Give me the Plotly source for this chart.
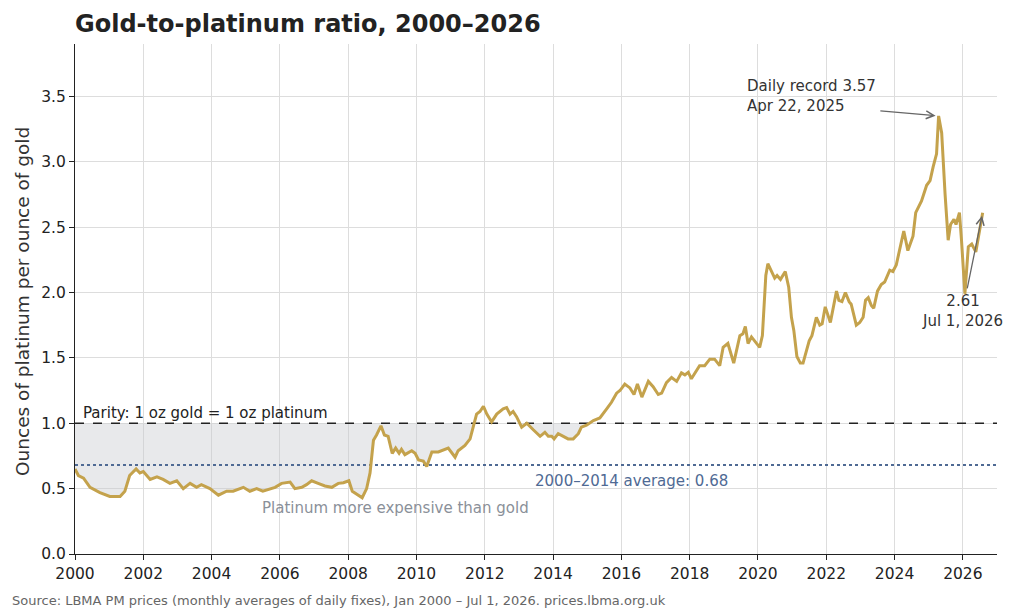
import plotly.graph_objects as go

# Monthly-average gold/platinum ratio (decimal year, ounces of platinum per ounce of gold)
years = [
    2000.00, 2000.10, 2000.25, 2000.44, 2000.73, 2001.02, 2001.32, 2001.46, 2001.60, 2001.79,
    2001.90, 2002.00, 2002.20, 2002.40, 2002.58, 2002.78, 2002.98, 2003.17, 2003.37, 2003.56,
    2003.70, 2003.95, 2004.20, 2004.44, 2004.63, 2004.93, 2005.12, 2005.32, 2005.50, 2005.70,
    2005.86, 2006.05, 2006.30, 2006.44, 2006.64, 2006.78, 2006.93, 2007.12, 2007.32, 2007.52,
    2007.71, 2007.86, 2008.02, 2008.12, 2008.25, 2008.41, 2008.54, 2008.64, 2008.74, 2008.83,
    2008.96, 2009.06, 2009.17, 2009.29, 2009.39, 2009.49, 2009.56, 2009.66, 2009.86, 2009.96,
    2010.06, 2010.20, 2010.30, 2010.45, 2010.64, 2010.83, 2010.93, 2011.13, 2011.22, 2011.42,
    2011.57, 2011.66, 2011.76, 2011.86, 2011.96, 2012.06, 2012.20, 2012.35, 2012.54, 2012.64,
    2012.74, 2012.83, 2012.93, 2013.08, 2013.23, 2013.42, 2013.62, 2013.76, 2013.86, 2013.96,
    2014.03, 2014.15, 2014.30, 2014.44, 2014.59, 2014.74, 2014.83, 2014.98, 2015.18, 2015.37,
    2015.57, 2015.71, 2015.86, 2015.96, 2016.10, 2016.25, 2016.37, 2016.47, 2016.60, 2016.79,
    2016.93, 2017.08, 2017.18, 2017.32, 2017.47, 2017.62, 2017.76, 2017.86, 2017.96, 2018.05,
    2018.29, 2018.44, 2018.59, 2018.73, 2018.88, 2018.98, 2019.12, 2019.29, 2019.47, 2019.56,
    2019.63, 2019.71, 2019.81, 2020.05, 2020.13, 2020.23, 2020.29, 2020.49, 2020.56, 2020.66,
    2020.80, 2020.90, 2020.98, 2021.05, 2021.14, 2021.24, 2021.32, 2021.40, 2021.50, 2021.58,
    2021.71, 2021.81, 2021.88, 2021.97, 2022.12, 2022.30, 2022.37, 2022.46, 2022.56, 2022.67,
    2022.73, 2022.88, 2022.98, 2023.08, 2023.15, 2023.23, 2023.32, 2023.39, 2023.50, 2023.61,
    2023.71, 2023.86, 2023.95, 2024.05, 2024.15, 2024.27, 2024.39, 2024.54, 2024.62, 2024.79,
    2024.94, 2025.04, 2025.13, 2025.23, 2025.29, 2025.38, 2025.48, 2025.57, 2025.64, 2025.74,
    2025.80, 2025.90, 2025.96, 2026.06, 2026.16, 2026.26, 2026.38, 2026.48, 2026.58,
]
ratio = [
    0.65, 0.60, 0.58, 0.51, 0.47, 0.44, 0.44, 0.48, 0.60, 0.65,
    0.62, 0.63, 0.57, 0.59, 0.57, 0.54, 0.56, 0.50, 0.54, 0.51,
    0.53, 0.50, 0.45, 0.48, 0.48, 0.51, 0.48, 0.50, 0.48, 0.50,
    0.51, 0.54, 0.55, 0.50, 0.51, 0.53, 0.56, 0.54, 0.52, 0.51,
    0.54, 0.545, 0.56, 0.48, 0.46, 0.43, 0.50, 0.62, 0.87, 0.91,
    0.98, 0.91, 0.90, 0.77, 0.81, 0.77, 0.80, 0.76, 0.79, 0.77,
    0.72, 0.71, 0.67, 0.78, 0.78, 0.80, 0.81, 0.74, 0.79, 0.83,
    0.88, 0.97, 1.07, 1.09, 1.13, 1.07, 1.01, 1.07, 1.11, 1.12,
    1.07, 1.09, 1.05, 0.97, 1.00, 0.95, 0.90, 0.93, 0.90, 0.90,
    0.88, 0.92, 0.90, 0.88, 0.88, 0.92, 0.97, 0.985, 1.02, 1.04,
    1.11, 1.16, 1.23, 1.25, 1.30, 1.27, 1.22, 1.30, 1.20, 1.32,
    1.28, 1.22, 1.23, 1.31, 1.35, 1.32, 1.385, 1.37, 1.39, 1.34,
    1.44, 1.44, 1.49, 1.49, 1.44, 1.58, 1.61, 1.46, 1.67, 1.685,
    1.74, 1.61, 1.66, 1.58, 1.67, 2.13, 2.22, 2.11, 2.13, 2.10,
    2.16, 2.04, 1.81, 1.71, 1.51, 1.46, 1.46, 1.53, 1.63, 1.67,
    1.81, 1.75, 1.76, 1.89, 1.77, 2.01, 1.94, 1.93, 2.00, 1.93,
    1.91, 1.75, 1.77, 1.81, 1.94, 1.96, 1.90, 1.88, 2.01, 2.06,
    2.08, 2.17, 2.16, 2.21, 2.32, 2.47, 2.32, 2.43, 2.61, 2.70,
    2.82, 2.855, 2.96, 3.06, 3.35, 3.22, 2.75, 2.40, 2.52, 2.56,
    2.52, 2.61, 2.40, 1.99, 2.35, 2.37, 2.31, 2.47, 2.61,
]

parity = 1.0
avg_2000_2014 = 0.68
x_ticks = list(range(2000, 2027, 2))
y_ticks = [0.0, 0.5, 1.0, 1.5, 2.0, 2.5, 3.0, 3.5]

record_year, record_value = 2025.29, 3.35
last_year, last_value = years[-1], ratio[-1]

GOLD = "#C4A24C"
FONT = "DejaVu Sans"

# shaded region where ratio < parity (with crossing points inserted)
fx, fy = [], []
for i in range(len(years)):
    if i > 0:
        y0, y1 = ratio[i - 1], ratio[i]
        if (y0 - parity) * (y1 - parity) < 0:
            t = (parity - y0) / (y1 - y0)
            fx.append(years[i - 1] + t * (years[i] - years[i - 1]))
            fy.append(parity)
    fx.append(years[i])
    fy.append(min(ratio[i], parity))

fig = go.Figure()
fig.add_trace(go.Scatter(x=fx, y=[parity] * len(fx), mode="lines",
                         line=dict(width=0), hoverinfo="skip", showlegend=False))
fig.add_trace(go.Scatter(x=fx, y=fy, mode="lines", line=dict(width=0),
                         fill="tonexty", fillcolor="rgba(200,203,208,0.42)",
                         hoverinfo="skip", showlegend=False))
fig.add_trace(go.Scatter(x=[2000, 2027], y=[parity, parity], mode="lines",
                         line=dict(color="#222222", width=1.4, dash="dash"),
                         showlegend=False))
fig.add_trace(go.Scatter(x=[2000, 2027], y=[avg_2000_2014, avg_2000_2014], mode="lines",
                         line=dict(color="#4F6A94", width=2, dash="dot"),
                         showlegend=False))
fig.add_trace(go.Scatter(x=years, y=ratio, mode="lines",
                         line=dict(color=GOLD, width=3), showlegend=False))

annotations = [
    dict(x=2000.18, y=1.08, xref="x", yref="y", text="Parity: 1 oz gold = 1 oz platinum",
         showarrow=False, xanchor="left", yanchor="middle",
         font=dict(family=FONT, size=15, color="#222222")),
    dict(x=2016.3, y=0.557, xref="x", yref="y", text="2000–2014 average: 0.68",
         showarrow=False, xanchor="center", yanchor="middle",
         font=dict(family=FONT, size=15, color="#4F6A94")),
    dict(x=2009.4, y=0.35, xref="x", yref="y", text="Platinum more expensive than gold",
         showarrow=False, xanchor="center", yanchor="middle",
         font=dict(family=FONT, size=15, color="#8A9099")),
    dict(x=2019.62, y=3.506, xref="x", yref="y", text="Daily record 3.57<br>Apr 22, 2025",
         showarrow=False, xanchor="left", yanchor="middle", align="left",
         font=dict(family=FONT, size=15, color="#333333")),
    dict(x=record_year, y=record_value, xref="x", yref="y", ax=2023.54, ay=3.39,
         axref="x", ayref="y", text="", showarrow=True, arrowhead=5, arrowsize=1.2,
         arrowwidth=1.3, arrowcolor="#666666", standoff=3),
    dict(x=2026.0, y=1.856, xref="x", yref="y", text="2.61<br>Jul 1, 2026",
         showarrow=False, xanchor="center", yanchor="middle", align="center",
         font=dict(family=FONT, size=15, color="#333333")),
    dict(x=last_year, y=last_value, xref="x", yref="y", ax=2026.12, ay=2.02,
         axref="x", ayref="y", text="", showarrow=True, arrowhead=5, arrowsize=1.2,
         arrowwidth=1.3, arrowcolor="#666666", standoff=3),
    dict(x=-0.0575, y=0.496, xref="paper", yref="paper",
         text="Ounces of platinum per ounce of gold", textangle=-90,
         showarrow=False, xanchor="center", yanchor="middle",
         font=dict(family=FONT, size=18.5, color="#333333")),
    dict(x=-0.0705, y=-0.092, xref="paper", yref="paper",
         text="Source: LBMA PM prices (monthly averages of daily fixes), Jan 2000 – Jul 1, 2026. prices.lbma.org.uk",
         showarrow=False, xanchor="left", yanchor="middle",
         font=dict(family=FONT, size=13, color="#666666")),
]

fig.update_layout(
    width=1024, height=614,
    margin=dict(l=75, r=27, t=44, b=60),
    paper_bgcolor="white", plot_bgcolor="white",
    font=dict(family=FONT, color="#222222"),
    title=dict(text="<b>Gold-to-platinum ratio, 2000–2026</b>", x=75 / 1024, xanchor="left",
               y=1 - 24 / 614, yanchor="middle", yref="container",
               font=dict(family=FONT, size=24, color="#222222")),
    annotations=annotations,
    xaxis=dict(range=[2000, 2027], tickvals=x_ticks, ticktext=[str(t) for t in x_ticks],
               showgrid=True, gridcolor="#DDDDDD", gridwidth=1, zeroline=False,
               showline=True, linecolor="#222222", linewidth=1.2,
               ticks="outside", ticklen=5, tickcolor="#222222",
               tickfont=dict(family=FONT, size=15.5, color="#222222")),
    yaxis=dict(range=[0, 3.9], tickvals=y_ticks, ticktext=[f"{t:.1f}" for t in y_ticks],
               showgrid=True, gridcolor="#DDDDDD", gridwidth=1, zeroline=False,
               showline=True, linecolor="#222222", linewidth=1.2,
               ticks="outside", ticklen=5, tickcolor="#222222",
               tickfont=dict(family=FONT, size=15.5, color="#222222")),
)

fig.write_html("out.html")
